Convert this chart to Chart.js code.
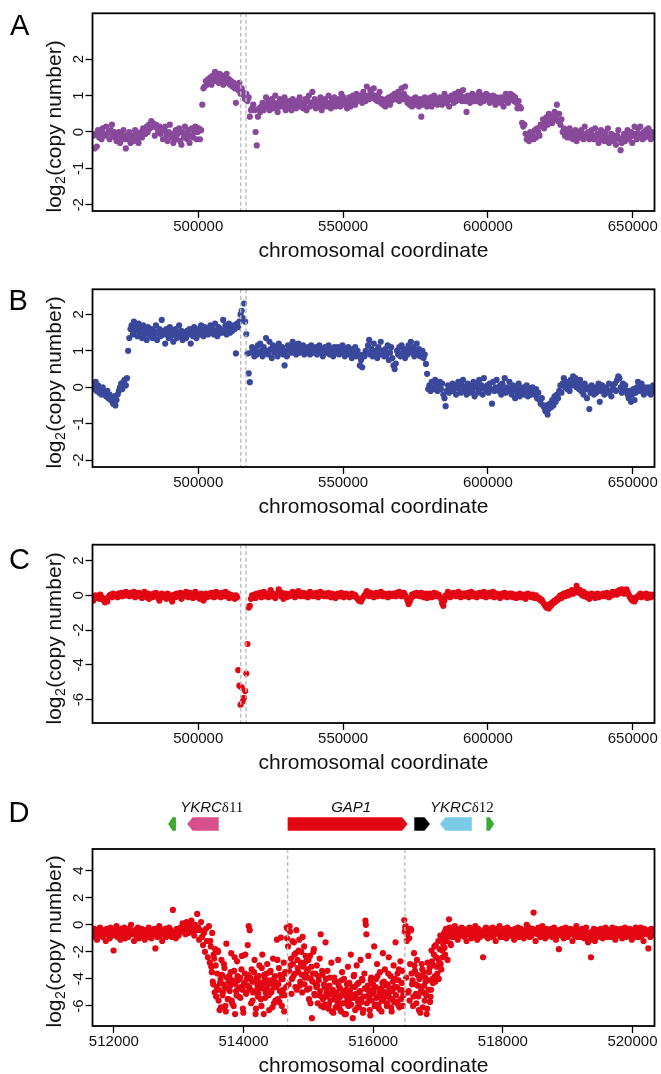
<!DOCTYPE html>
<html>
<head>
<meta charset="utf-8">
<script src="https://cdn.jsdelivr.net/npm/chart.js@4.4.1/dist/chart.umd.min.js"></script>
<style>
html, body { margin: 0; padding: 0; background: #fff; overflow: hidden; }
#fig { position: relative; width: 661px; height: 1074px; overflow: hidden; }
canvas { position: absolute; left: 0; }
.tag { position: absolute; font: 29px 'Liberation Sans', Arial, sans-serif; line-height: 29px; color: #000; }
</style>
</head>
<body>
<div id="fig">
  <canvas id="cA" width="661" height="265" style="top:0px"></canvas>
  <canvas id="cB" width="661" height="251" style="top:270px"></canvas>
  <canvas id="cC" width="661" height="252" style="top:525px"></canvas>
  <canvas id="cD" width="661" height="300" style="top:780px"></canvas>
  <div class="tag" style="left:10px;top:10.5px">A</div>
  <div class="tag" style="left:8.5px;top:286px">B</div>
  <div class="tag" style="left:9px;top:545px">C</div>
  <div class="tag" style="left:8.5px;top:798px">D</div>
</div>
<script>
// bin positions (kb) shared by panels A, B, C
const binKb = [
  463.8,464.2,464.6,465,465.4,465.8,466.2,466.6,467,467.4,
  467.8,468.2,468.6,469,469.4,469.8,470.2,470.6,471,471.4,
  471.8,472.2,472.6,473,473.4,473.8,474.2,474.6,475,475.4,
  475.8,476.2,476.6,477,477.4,477.8,478.2,478.6,479,479.4,
  479.8,480.2,480.6,481,481.4,481.8,482.2,482.6,483,483.4,
  483.8,484.2,484.6,485,485.4,485.8,486.2,486.6,487,487.4,
  487.8,488.2,488.6,489,489.4,489.8,490.2,490.6,491,491.4,
  491.8,492.2,492.6,493,493.4,493.8,494.2,494.6,495,495.4,
  495.8,496.2,496.6,497,497.4,497.8,498.2,498.6,499,499.4,
  499.8,500.2,500.6,501,501.4,501.8,502.2,502.6,503,503.4,
  503.8,504.2,504.6,505,505.4,505.8,506.2,506.6,507,507.4,
  507.8,508.2,508.6,509,509.4,509.8,510.2,510.6,511,511.4,
  511.8,512.2,512.6,513,513.4,513.8,514.2,514.6,515,515.4,
  515.8,516.2,516.6,517,517.4,517.8,518.2,518.6,519,519.4,
  519.8,520.2,520.6,521,521.4,521.8,522.2,522.6,523,523.4,
  523.8,524.2,524.6,525,525.4,525.8,526.2,526.6,527,527.4,
  527.8,528.2,528.6,529,529.4,529.8,530.2,530.6,531,531.4,
  531.8,532.2,532.6,533,533.4,533.8,534.2,534.6,535,535.4,
  535.8,536.2,536.6,537,537.4,537.8,538.2,538.6,539,539.4,
  539.8,540.2,540.6,541,541.4,541.8,542.2,542.6,543,543.4,
  543.8,544.2,544.6,545,545.4,545.8,546.2,546.6,547,547.4,
  547.8,548.2,548.6,549,549.4,549.8,550.2,550.6,551,551.4,
  551.8,552.2,552.6,553,553.4,553.8,554.2,554.6,555,555.4,
  555.8,556.2,556.6,557,557.4,557.8,558.2,558.6,559,559.4,
  559.8,560.2,560.6,561,561.4,561.8,562.2,562.6,563,563.4,
  563.8,564.2,564.6,565,565.4,565.8,566.2,566.6,567,567.4,
  567.8,568.2,568.6,569,569.4,569.8,570.2,570.6,571,571.4,
  571.8,572.2,572.6,573,573.4,573.8,574.2,574.6,575,575.4,
  575.8,576.2,576.6,577,577.4,577.8,578.2,578.6,579,579.4,
  579.8,580.2,580.6,581,581.4,581.8,582.2,582.6,583,583.4,
  583.8,584.2,584.6,585,585.4,585.8,586.2,586.6,587,587.4,
  587.8,588.2,588.6,589,589.4,589.8,590.2,590.6,591,591.4,
  591.8,592.2,592.6,593,593.4,593.8,594.2,594.6,595,595.4,
  595.8,596.2,596.6,597,597.4,597.8,598.2,598.6,599,599.4,
  599.8,600.2,600.6,601,601.4,601.8,602.2,602.6,603,603.4,
  603.8,604.2,604.6,605,605.4,605.8,606.2,606.6,607,607.4,
  607.8,608.2,608.6,609,609.4,609.8,610.2,610.6,611,611.4,
  611.8,612.2,612.6,613,613.4,613.8,614.2,614.6,615,615.4,
  615.8,616.2,616.6,617,617.4,617.8,618.2,618.6,619,619.4,
  619.8,620.2,620.6,621,621.4,621.8,622.2,622.6,623,623.4,
  623.8,624.2,624.6,625,625.4,625.8,626.2,626.6,627,627.4,
  627.8,628.2,628.6,629,629.4,629.8,630.2,630.6,631,631.4,
  631.8,632.2,632.6,633,633.4,633.8,634.2,634.6,635,635.4,
  635.8,636.2,636.6,637,637.4,637.8,638.2,638.6,639,639.4,
  639.8,640.2,640.6,641,641.4,641.8,642.2,642.6,643,643.4,
  643.8,644.2,644.6,645,645.4,645.8,646.2,646.6,647,647.4,
  647.8,648.2,648.6,649,649.4,649.8,650.2,650.6,651,651.4,
  651.8,652.2,652.6,653,653.4,653.8,654.2,654.6,655,655.4,
  655.8,656.2,656.6,657,657.4
];

// panel A: log2 copy number
const logA = [
  -0.1,-0.45,-0.05,-0.4,0.05,-0.15,0,-0.2,0.1,-0.05,
  -0.1,0.15,-0.05,0,-0.2,0.05,0.2,-0.1,0,-0.15,
  -0.25,-0.05,0,-0.3,-0.15,-0.1,0.05,-0.2,-0.45,-0.1,
  -0.2,0,-0.3,-0.1,-0.15,-0.25,0.05,-0.05,-0.2,-0.3,
  -0.1,0,-0.15,0.1,0.05,-0.05,0.15,0,0.2,0.1,
  0.3,0.25,0.15,-0.1,0.2,0.1,0,0.15,-0.05,0.1,
  -0.2,0.05,0.15,-0.1,-0.25,0,0.2,-0.05,-0.15,-0.3,
  -0.1,0.05,-0.2,-0.05,0.1,-0.25,-0.35,0,-0.15,0.15,
  -0.05,-0.2,0.05,-0.3,-0.1,0.1,-0.15,0,0.15,-0.2,
  0,0.1,-0.2,0.05,0.75,1.2,1.25,1.4,1.3,1.45,
  1.35,1.5,1.3,1.55,1.45,1.65,1.4,1.5,1.35,1.6,
  1.45,1.55,1.3,1.5,1.4,1.6,1.35,1.45,1.3,1.4,
  1.25,1.35,1.2,0.8,1.3,1.15,1.35,1.05,1.2,1.1,
  1.0,0.9,1.05,0.85,0.95,0.42,0.6,0.65,0.75,0.6,
  0,-0.37,0.42,0.65,0.55,0.7,0.8,0.6,0.75,0.95,
  0.7,0.85,0.6,0.75,0.9,0.65,0.8,1.0,0.7,0.55,
  0.8,0.9,0.7,0.85,0.75,0.95,0.6,0.8,0.7,0.85,
  0.75,0.6,0.9,0.8,0.7,0.65,0.85,0.75,0.95,0.7,
  0.8,0.65,0.75,0.9,0.6,0.85,1.0,0.7,0.8,1.1,
  0.75,0.9,0.65,0.8,0.7,0.85,0.95,0.6,0.75,0.8,
  0.9,0.7,0.8,1.0,0.75,0.65,0.9,0.8,0.95,0.7,
  0.85,0.75,0.9,0.7,1.05,0.8,0.95,0.75,0.85,0.65,
  0.8,0.95,0.7,0.85,1.0,0.9,0.75,1.05,0.85,0.95,
  1.0,0.9,0.8,1.1,0.95,0.85,1.25,1.0,0.9,1.15,
  1.05,0.95,1.2,0.9,1.0,0.85,0.95,1.1,0.8,0.9,
  0.75,0.85,0.7,0.9,0.8,0.95,0.75,0.85,1.0,0.9,
  1.05,0.9,0.95,1.1,0.85,1.0,1.2,0.9,1.05,1.25,
  0.95,0.8,0.9,0.75,0.85,0.7,0.9,0.8,0.95,0.75,
  0.85,0.7,0.9,0.42,0.8,0.75,0.95,0.85,0.7,0.9,
  0.8,0.95,0.7,0.85,1.0,0.8,0.9,0.75,0.85,0.95,
  0.85,0.75,0.9,1.05,0.8,0.95,0.85,0.7,0.9,1.0,
  0.9,0.8,1.05,0.85,0.95,1.1,0.9,1.0,0.85,1.15,
  0.95,0.85,0.55,1.0,0.9,0.8,0.95,1.05,0.85,0.9,
  1.0,0.85,0.95,1.1,0.8,0.9,1.0,0.85,0.95,1.05,
  0.9,1.0,0.8,0.95,0.85,1.0,0.9,0.75,0.95,0.85,
  0.9,0.8,0.95,0.85,0.7,0.9,1.05,0.85,0.8,0.95,
  1.05,0.9,1.0,0.85,0.95,0.8,0.65,0.85,0.7,0.65,
  0.25,0.15,0.2,-0.05,-0.2,-0.1,-0.25,0,-0.15,-0.05,
  -0.2,0.05,-0.15,0.1,0,-0.1,0.2,0.15,0.35,0.1,
  0.25,0.4,0.2,0.5,0.3,0.45,0.25,0.35,0.55,0.4,
  0.75,0.3,0.5,0.2,0.35,0,0.1,-0.1,0.05,-0.15,
  -0.05,0.1,-0.15,0,-0.2,-0.1,0.05,-0.25,-0.1,0,
  -0.15,0.05,-0.1,-0.2,0.15,-0.05,-0.15,0,-0.2,-0.1,
  0.05,-0.1,-0.2,0.1,-0.15,-0.05,-0.3,-0.1,0.05,-0.2,
  -0.1,-0.25,0,-0.15,0.1,-0.3,-0.2,-0.05,-0.25,-0.1,
  -0.2,-0.35,-0.1,0.05,-0.2,-0.5,-0.3,-0.15,-0.05,-0.25,
  -0.1,0.05,-0.2,-0.15,0,-0.3,-0.1,0.15,-0.05,-0.2,
  0.1,-0.05,0.15,-0.1,-0.2,0,-0.15,0.05,-0.1,0.1,
  -0.05,-0.2,0,-0.1,-0.15
];

// panel B
const logB = [
  0.1,-0.05,0.15,-0.1,0.05,-0.15,-0.05,-0.2,0,-0.1,
  -0.15,-0.25,-0.1,-0.3,-0.2,-0.35,-0.3,-0.45,-0.25,-0.5,
  -0.35,-0.2,-0.1,0,0.1,-0.05,0.15,0.2,0.05,0.25,
  1.0,1.35,1.6,1.7,1.45,1.8,1.55,1.65,1.4,1.75,
  1.5,1.6,1.35,1.7,1.45,1.55,1.3,1.65,1.5,1.4,
  1.6,1.35,1.55,1.45,1.7,1.3,1.5,1.6,1.4,1.85,
  1.55,1.45,1.2,1.6,1.5,1.35,1.65,1.4,1.55,1.25,
  1.45,1.6,1.35,1.5,1.7,1.4,1.55,1.3,1.5,1.45,
  1.35,1.55,1.45,1.6,1.2,1.5,1.4,1.65,1.55,1.35,
  1.5,1.6,1.45,1.7,1.55,1.4,1.65,1.5,1.6,1.45,
  1.55,1.7,1.5,1.6,1.45,1.75,1.55,1.4,1.65,1.5,
  1.6,1.5,1.85,1.55,1.7,1.45,1.6,1.75,1.5,1.65,
  1.55,1.7,1.6,0.93,1.75,1.65,1.8,2.0,2.1,1.9,
  2.3,1.8,1.46,0.93,0.38,0.14,0.95,1.1,1.0,0.85,
  1.05,0.9,1.15,0.95,1.2,1.0,0.85,1.1,0.95,1.35,
  1.0,0.9,1.25,1.05,0.8,1.15,0.95,1.1,1.0,0.85,
  1.2,1.05,0.95,1.1,0.9,0.6,1.0,0.85,1.15,1.0,
  1.1,0.95,1.25,1.0,1.15,0.9,1.05,1.2,0.95,1.1,
  1.0,1.15,0.9,1.05,0.95,1.1,1.0,0.9,1.15,1.05,
  0.95,1.05,1.1,0.9,1.0,1.15,0.95,1.05,0.85,1.0,
  1.1,0.95,1.0,1.15,0.9,1.05,1.0,0.85,1.1,0.95,
  1.0,1.1,0.9,1.05,0.95,1.15,1.0,0.85,1.05,0.95,
  1.1,0.9,1.0,0.8,1.05,0.95,1.1,0.85,1.0,0.9,
  0.6,0.75,0.55,0.9,0.85,1.0,0.95,1.15,1.3,0.9,
  1.05,0.85,1.2,0.95,1.0,0.8,1.1,0.9,1.25,1.0,
  0.95,0.85,1.05,0.9,1.15,0.75,0.95,1.1,0.8,0.6,
  0.5,0.65,1.0,0.9,1.1,0.85,1.15,0.95,1.05,0.8,
  1.0,0.9,1.15,1.05,1.25,0.95,1.1,0.85,1.0,1.2,
  0.9,1.05,0.85,0.95,1.0,0.8,0.9,0.64,0.37,-0.05,
  0.05,-0.1,0.15,0,-0.05,0.2,0.1,-0.1,0.05,0.15,
  -0.05,0.1,-0.2,-0.3,-0.52,-0.1,0.05,-0.15,0,-0.05,
  0.1,-0.1,0.05,-0.2,0,0.15,-0.05,-0.15,0.05,0.2,
  -0.1,0,-0.2,0.1,-0.05,-0.15,0.05,-0.1,0.15,-0.25,
  0,0.1,-0.15,0.2,-0.05,0.05,-0.2,0.25,0,-0.1,
  0.05,-0.15,0.1,-0.05,-0.45,0.15,-0.1,0,0.2,-0.05,
  -0.1,0.05,-0.2,0.1,-0.05,0.25,-0.15,0,-0.1,0.15,
  -0.05,-0.2,0.05,-0.1,-0.3,0,-0.15,0.1,-0.25,-0.05,
  -0.15,0,-0.2,-0.1,0.05,-0.25,-0.15,-0.05,-0.2,0,
  -0.1,-0.2,-0.05,-0.3,-0.15,-0.35,-0.45,-0.3,-0.5,-0.55,
  -0.65,-0.5,-0.75,-0.6,-0.45,-0.55,-0.35,-0.5,-0.25,-0.4,
  -0.2,-0.3,-0.1,0.05,-0.15,0.1,0.25,0,0.15,-0.05,
  0.1,-0.1,0.2,0.05,0.3,0.15,0.25,0,0.1,-0.05,
  0.2,-0.1,0.05,-0.2,0.1,-0.05,-0.3,0,-0.6,-0.15,
  0.05,-0.1,-0.2,0,-0.15,-0.05,0.1,-0.4,-0.1,0.05,
  -0.1,-0.2,0,-0.05,-0.15,0.1,-0.1,-0.25,0.05,-0.05,
  0.1,-0.1,0.2,0.3,0.25,0,-0.15,0.1,-0.05,0.05,
  -0.1,-0.2,-0.3,-0.1,-0.4,-0.2,-0.05,-0.35,-0.15,0,
  0.15,-0.1,0.05,0.1,-0.05,-0.2,0,-0.1,-0.15,0,
  -0.1,-0.2,-0.05,0.05,-0.1
];

// panel C
const logC = [
  -0.3,-0.05,0,-0.15,-0.1,-0.2,0.05,-0.1,-0.15,-0.3,
  -0.4,-0.2,-0.35,-0.1,0,0.05,-0.1,0.1,0,-0.05,
  0.05,-0.1,0.1,0,0.15,-0.05,0.1,0,0.2,0.05,
  0.1,-0.05,0.15,0,0.05,0.2,-0.1,0.1,0,0.15,
  -0.05,0.1,-0.15,0.05,0.2,0,-0.1,0.1,-0.2,0,
  0.05,-0.1,0.1,-0.05,0.15,0,-0.15,-0.3,-0.05,0.1,
  0,-0.1,0.05,-0.2,0.1,-0.05,-0.15,0,-0.35,-0.1,
  0.05,-0.1,0.1,0,-0.05,0.15,-0.2,0,0.1,-0.05,
  0.2,0.05,-0.1,0.15,0,0.1,-0.15,0.05,0.2,0,
  -0.1,0.05,-0.2,0.1,-0.05,-0.3,0,0.1,-0.1,0.05,
  0.1,-0.05,0.15,0,-0.1,0.05,0.2,-0.05,0.1,0,
  -0.1,0.15,0.05,-0.05,0.2,0,0.1,-0.15,0.05,-0.1,
  0,-0.1,-0.2,0,-0.1,-4.3,-5.2,-6.3,-5.3,-6.1,
  -5.9,-5.5,-4.5,-2.8,-0.7,-0.6,-0.2,0,-0.1,0.05,
  -0.15,0.1,-0.05,0,0.15,-0.1,0.05,0.2,-0.05,0.1,
  0,-0.1,0.05,0.3,-0.05,0.1,0,-0.15,0.05,0.1,
  0.35,0.1,-0.05,0.15,-0.2,0,0.1,-0.1,0.05,-0.05,
  0.1,0,0.2,0.05,-0.1,0.15,0,0.25,0.1,-0.05,
  0.05,0.15,-0.05,0.1,0,-0.1,0.05,0.2,0,0.1,
  -0.05,0.1,0,0.15,-0.1,0.05,0.2,0,0.1,-0.05,
  0.1,0,-0.05,0.15,0.05,-0.1,0.1,0,0.05,-0.15,
  0,0.1,-0.05,0.05,0.15,0,-0.1,0.05,0.1,-0.05,
  0.05,-0.1,0,0.1,-0.05,0.05,0,-0.1,-0.2,-0.3,
  -0.25,-0.35,-0.2,-0.1,0,0.1,0.25,0.1,-0.05,0.15,
  0,0.1,-0.1,0.05,0.15,-0.05,0.1,0,0.2,0.05,
  -0.05,0.1,0,0.05,-0.1,0.1,0,-0.05,0.1,0,
  0.1,-0.05,0.15,0,0.2,0.1,-0.05,0.05,0.15,0,
  -0.1,-0.3,-0.5,-0.35,-0.2,0.05,-0.05,0.1,0,0.15,
  0,0.1,-0.05,0.15,0.05,-0.1,0,0.1,-0.15,0.05,
  0.1,0,-0.1,0.05,0.15,-0.05,0.1,0,0.05,-0.1,
  -0.2,-0.45,-0.6,-0.3,0,-0.05,0.2,0.05,-0.1,0,
  0.1,0.15,0,-0.05,0.1,0.2,0.05,-0.1,0,0.1,
  -0.05,0.1,0,0.15,-0.1,0.05,0.2,0,-0.05,0.1,
  0,-0.1,0.05,0.15,0,0.1,-0.05,0.2,0.05,-0.1,
  0.1,0,0.15,-0.05,0.05,0.2,-0.1,0,0.1,-0.05,
  0.05,-0.15,0,0.1,-0.05,0.15,0,-0.1,0.05,0.1,
  -0.05,0.1,-0.1,0,0.05,-0.15,0,-0.05,0.1,-0.1,
  0,-0.1,0.05,-0.2,0,0.1,-0.05,0,-0.1,0.05,
  -0.05,-0.15,0,-0.1,-0.2,-0.15,-0.3,-0.25,-0.4,-0.5,
  -0.6,-0.7,-0.55,-0.75,-0.5,-0.6,-0.4,-0.45,-0.3,-0.35,
  -0.2,-0.25,-0.1,0,-0.15,0.05,0.1,-0.05,0.15,0,
  0.2,0.05,0.15,0.3,0.1,0.25,0.2,0.55,0.35,0.15,
  0.3,0.1,0,0.2,-0.05,0.1,-0.1,0.05,-0.2,0,
  0.1,-0.05,0.05,-0.15,0,0.1,-0.1,0.05,0,-0.05,
  0.1,0,-0.05,0.15,0.05,-0.1,0.1,0,0.2,0.05,
  0.1,0.2,0.05,0.25,0.3,0.15,0.35,0.2,0.1,0.25,
  0.35,0.2,0.05,-0.1,-0.2,-0.3,-0.15,-0.35,-0.2,-0.1,
  -0.05,0,0.1,-0.1,0.05,0,-0.05,0.1,-0.15,0,
  0.05,-0.1,0,0.05,-0.05
];

// panel D: probe positions (bp) and log2 copy number
const posD = [
  511680,511695,511710,511725,511740,511755,511770,511785,511800,511815,
  511830,511845,511860,511875,511890,511905,511920,511935,511950,511965,
  511980,511995,512010,512025,512040,512055,512070,512085,512100,512115,
  512130,512145,512160,512175,512190,512205,512220,512235,512250,512265,
  512280,512295,512310,512325,512340,512355,512370,512385,512400,512415,
  512430,512445,512460,512475,512490,512505,512520,512535,512550,512565,
  512580,512595,512610,512625,512640,512655,512670,512685,512700,512715,
  512730,512745,512760,512775,512790,512805,512820,512835,512850,512865,
  512880,512895,512910,512925,512940,512955,512970,512985,513000,513015,
  513030,513045,513060,513075,513090,513105,513120,513135,513150,513165,
  513180,513195,513210,513225,513240,513255,513270,513285,513300,513315,
  513330,513345,513360,513375,513390,513405,513420,513435,513450,513465,
  513480,513495,513510,513525,513540,513555,513570,513585,513600,513615,
  513630,513645,513660,513675,513690,513705,513720,513735,513750,513765,
  513780,513795,513810,513825,513840,513855,513870,513885,513900,513915,
  513930,513945,513960,513975,513990,514005,514020,514035,514050,514065,
  514080,514095,514110,514125,514140,514155,514170,514185,514200,514215,
  514230,514245,514260,514275,514290,514305,514320,514335,514350,514365,
  514380,514395,514410,514425,514440,514455,514470,514485,514500,514515,
  514530,514545,514560,514575,514590,514605,514620,514635,514650,514665,
  514680,514695,514710,514725,514740,514755,514770,514785,514800,514815,
  514830,514845,514860,514875,514890,514905,514920,514935,514950,514965,
  514980,514995,515010,515025,515040,515055,515070,515085,515100,515115,
  515130,515145,515160,515175,515190,515205,515220,515235,515250,515265,
  515280,515295,515310,515325,515340,515355,515370,515385,515400,515415,
  515430,515445,515460,515475,515490,515505,515520,515535,515550,515565,
  515580,515595,515610,515625,515640,515655,515670,515685,515700,515715,
  515730,515745,515760,515775,515790,515805,515820,515835,515850,515865,
  515880,515895,515910,515925,515940,515955,515970,515985,516000,516015,
  516030,516045,516060,516075,516090,516105,516120,516135,516150,516165,
  516180,516195,516210,516225,516240,516255,516270,516285,516300,516315,
  516330,516345,516360,516375,516390,516405,516420,516435,516450,516465,
  516480,516495,516510,516525,516540,516555,516570,516585,516600,516615,
  516630,516645,516660,516675,516690,516705,516720,516735,516750,516765,
  516780,516795,516810,516825,516840,516855,516870,516885,516900,516915,
  516930,516945,516960,516975,516990,517005,517020,517035,517050,517065,
  517080,517095,517110,517125,517140,517155,517170,517185,517200,517215,
  517230,517245,517260,517275,517290,517305,517320,517335,517350,517365,
  517380,517395,517410,517425,517440,517455,517470,517485,517500,517515,
  517530,517545,517560,517575,517590,517605,517620,517635,517650,517665,
  517680,517695,517710,517725,517740,517755,517770,517785,517800,517815,
  517830,517845,517860,517875,517890,517905,517920,517935,517950,517965,
  517980,517995,518010,518025,518040,518055,518070,518085,518100,518115,
  518130,518145,518160,518175,518190,518205,518220,518235,518250,518265,
  518280,518295,518310,518325,518340,518355,518370,518385,518400,518415,
  518430,518445,518460,518475,518490,518505,518520,518535,518550,518565,
  518580,518595,518610,518625,518640,518655,518670,518685,518700,518715,
  518730,518745,518760,518775,518790,518805,518820,518835,518850,518865,
  518880,518895,518910,518925,518940,518955,518970,518985,519000,519015,
  519030,519045,519060,519075,519090,519105,519120,519135,519150,519165,
  519180,519195,519210,519225,519240,519255,519270,519285,519300,519315,
  519330,519345,519360,519375,519390,519405,519420,519435,519450,519465,
  519480,519495,519510,519525,519540,519555,519570,519585,519600,519615,
  519630,519645,519660,519675,519690,519705,519720,519735,519750,519765,
  519780,519795,519810,519825,519840,519855,519870,519885,519900,519915,
  519930,519945,519960,519975,519990,520005,520020,520035,520050,520065,
  520080,520095,520110,520125,520140,520155,520170,520185,520200,520215,
  520230,520245,520260,520275,520290,520305
];
const logD = [
  -0.6,-0.3,-0.9,-0.5,-1.1,-0.4,-0.7,-0.2,-0.8,-0.5,
  -0.9,-0.4,-0.6,-1.2,-0.3,-0.7,-0.5,-1.0,-0.2,-0.6,
  -0.8,-1.9,-0.4,-0.7,-0.1,-0.9,-0.5,-0.6,-1.1,-0.3,
  -0.5,-0.8,-0.2,-1.0,-0.6,-0.4,-0.9,-0.3,-0.7,0,
  -0.7,-0.5,-1.2,-0.4,-0.8,-0.6,-0.2,-1.0,-0.5,-0.9,
  -0.3,-0.7,-0.6,-1.1,-0.4,-0.8,-0.5,-0.2,-0.9,-0.6,
  -1.0,-0.4,-0.7,-0.3,-1.75,-0.6,-0.9,-0.5,-0.1,-0.8,
  -0.6,-1.2,-0.4,-0.7,-0.3,-0.9,-0.5,-0.8,-0.2,-0.6,
  -0.4,-0.9,1.1,-0.7,-0.5,-1.0,-0.3,-0.6,-0.8,-0.4,
  -0.2,-0.5,0.1,-0.4,-0.1,-0.7,0.2,-0.3,-0.6,0,
  -0.3,0.3,-0.5,-0.1,-0.8,0,-0.4,0.8,-0.2,-1.1,
  -0.4,0.2,-0.9,-1.5,-0.6,-2.0,-0.3,-1.2,-2.4,-0.1,
  -2.8,-1.6,-3.5,-4.2,-2.2,-5.0,-3.0,-4.6,-1.9,-5.6,
  -6.3,-4.0,-2.6,-5.2,-4.4,-3.2,-6.0,-1.4,-4.7,-5.5,
  -3.8,-4.5,-2.1,-5.8,-4.2,-3.4,-6.6,-4.9,-2.7,-4.1,
  -5.3,-3.9,-4.6,-2.3,-6.2,-4.4,-3.6,-5.0,-4.0,-1.5,
  -0.1,-0.4,-4.8,-3.3,-5.6,-4.2,-2.6,-6.6,-3.9,-4.5,
  -5.1,-3.0,-4.3,-6.0,-2.2,-4.7,-3.7,-5.4,-4.1,-2.9,
  -4.4,-6.3,-3.5,-5.0,-4.2,-2.5,-5.8,-3.8,-4.6,-1.1,
  -5.5,-3.2,-4.9,-0.95,-6.0,-4.0,-2.8,-5.2,-3.6,-0.2,
  -0.3,-4.4,-0.1,-3.0,-5.1,-1.2,-3.8,-2.2,-4.6,-0.4,
  -2.6,-3.5,-1.1,-4.2,-2.0,-5.0,-3.1,-1.6,-3.9,-2.7,
  -4.8,-3.3,-5.5,-2.3,-4.0,-6.9,-3.6,-1.8,-5.2,-4.4,
  -3.0,-5.8,-4.1,-2.5,-0.7,-5.3,-3.7,-6.1,-4.6,-1.3,
  -5.0,-3.4,-6.2,-4.5,-5.6,-2.8,-4.9,-6.5,-3.9,-5.3,
  -4.2,-6.0,-2.6,-5.4,-4.7,-6.4,-3.5,-5.1,-4.0,-5.8,
  -6.6,-4.4,-3.1,-5.6,-4.9,-2.2,-5.2,-6.9,-3.8,-4.6,
  -5.4,-3.0,-6.1,-4.3,-5.0,-2.6,-5.7,-4.1,-6.3,-3.6,
  0.3,-0.7,-4.8,-2.3,-5.5,-6.7,-3.9,-5.1,-4.4,-1.6,
  -5.9,-4.0,-2.9,-5.3,-6.2,-3.5,-4.7,-5.6,-2.1,-4.2,
  -3.3,-5.0,-6.0,-4.4,-2.4,-5.4,-3.8,-6.4,-4.9,-3.0,
  -4.6,-1.3,-5.7,-3.6,-4.1,-6.1,-2.7,-4.8,-3.4,-5.2,
  0.35,-0.2,-3.9,-0.7,-5.0,-1.0,-2.9,-0.4,-4.4,-6.0,
  -2.1,-3.4,-5.1,-2.6,-4.5,-6.3,-3.8,-4.9,-2.9,-6.1,
  -3.5,-5.6,-4.2,-6.6,-2.8,-4.8,-3.2,-5.3,-1.9,-4.0,
  -3.0,-1.6,-4.2,-2.4,-3.6,-1.2,-2.8,-0.8,-3.3,-1.9,
  -1.4,-0.6,-2.2,-0.3,-1.0,-0.5,0.4,-0.8,-1.5,-0.2,
  -0.5,-0.9,-0.1,-0.7,-0.3,-1.1,-0.6,-0.4,-0.8,-0.2,
  -0.6,-0.3,-0.9,-0.5,-1.2,-0.4,-0.7,-0.2,-0.6,-1.0,
  -0.4,-0.8,-0.5,-0.1,-0.7,-1.1,-0.3,-0.6,-0.9,-0.5,
  -0.7,-2.4,-0.4,-0.8,-0.2,-0.6,-1.0,-0.5,-0.3,-0.9,
  -0.5,-0.2,-0.8,-0.4,-1.2,-0.6,-0.3,-0.7,-0.1,-0.9,
  -0.6,-0.9,-0.3,-0.7,-0.5,-1.0,-0.2,-0.6,-0.8,-0.4,
  -0.8,-0.4,-0.6,-1.1,-0.3,-0.7,-0.5,-0.2,-0.9,-0.6,
  -0.3,-0.7,-0.5,-1.0,-0.4,-0.8,0,-0.6,-0.2,-0.9,
  -0.5,-0.8,-0.3,0.9,-0.6,-1.2,-0.4,-0.7,-0.2,-0.5,
  -0.9,-0.4,-0.1,-0.7,-0.5,-1.0,-0.3,-0.6,-0.8,-0.4,
  -0.6,-0.3,-0.9,-0.5,-0.2,-0.8,-1.1,-0.4,-0.7,-1.8,
  -0.5,-0.8,-0.3,-0.6,-1.0,-0.4,-0.2,-0.7,-0.9,-0.5,
  -0.7,-0.3,-0.6,-1.2,-0.4,-0.8,-0.5,-0.1,-0.9,-0.6,
  -0.4,-0.9,-0.6,-0.3,-0.7,-1.0,-0.5,-0.2,-0.8,-1.3,
  -0.6,-1.1,-2.4,-0.5,-0.8,-0.3,-1.2,-0.7,-0.4,-0.9,
  -0.5,-0.8,-0.3,-0.6,-1.0,-0.4,-0.7,-0.2,-0.9,-0.5,
  -0.7,-0.4,-0.9,-0.6,-0.2,-0.8,-0.5,-1.1,-0.3,-0.6,
  -0.4,-0.8,-0.6,-0.3,-1.0,-0.5,-0.7,-0.2,-0.9,-0.6,
  -0.8,-0.5,-0.3,-0.7,-1.1,-0.4,-0.6,-0.9,-0.2,-0.7,
  -0.5,-0.9,-0.4,-0.2,-0.8,-0.6,-1.2,-0.3,-0.7,-0.5,
  -0.6,-1.75,-0.4,-0.9,-0.3,-0.7
];

// panel D: second probe set across the deleted stretch
const posD2 = [
  513487,513502,513517,513532,513547,513562,513577,513592,513607,513622,
  513637,513652,513667,513682,513697,513712,513727,513742,513757,513772,
  513787,513802,513817,513832,513847,513862,513877,513892,513907,513922,
  513937,513952,513967,513982,513997,514012,514027,514042,514057,514072,
  514087,514102,514117,514132,514147,514162,514177,514192,514207,514222,
  514237,514252,514267,514282,514297,514312,514327,514342,514357,514372,
  514387,514402,514417,514432,514447,514462,514477,514492,514507,514522,
  514537,514552,514567,514582,514597,514612,514627,514642,514657,514672,
  514687,514702,514717,514732,514747,514762,514777,514792,514807,514822,
  514837,514852,514867,514882,514897,514912,514927,514942,514957,514972,
  514987,515002,515017,515032,515047,515062,515077,515092,515107,515122,
  515137,515152,515167,515182,515197,515212,515227,515242,515257,515272,
  515287,515302,515317,515332,515347,515362,515377,515392,515407,515422,
  515437,515452,515467,515482,515497,515512,515527,515542,515557,515572,
  515587,515602,515617,515632,515647,515662,515677,515692,515707,515722,
  515737,515752,515767,515782,515797,515812,515827,515842,515857,515872,
  515887,515902,515917,515932,515947,515962,515977,515992,516007,516022,
  516037,516052,516067,516082,516097,516112,516127,516142,516157,516172,
  516187,516202,516217,516232,516247,516262,516277,516292,516307,516322,
  516337,516352,516367,516382,516397,516412,516427,516442,516457,516472,
  516487,516502,516517,516532,516547,516562,516577,516592,516607,516622,
  516637,516652,516667,516682,516697,516712,516727,516742,516757,516772,
  516787,516802,516817,516832,516847,516862,516877,516892,516907,516922,
  516937,516952,516967,516982,516997,517012,517027,517042,517057,517072,
  517087,517102,517117,517132,517147,517162,517177,517192,517207,517222
];
const logD2 = [
  -1.2,-3.1,-0.6,-4.4,-2.5,-1.8,-5.3,-3.6,-2.0,-4.8,
  -4.3,-6.1,-3.7,-5.0,-2.9,-4.6,-6.4,-3.9,-5.5,-4.2,
  -4.9,-3.5,-5.6,-4.1,-6.0,-2.4,-4.4,-5.2,-3.8,-4.7,
  -4.0,-5.4,-3.3,-4.8,-6.5,-4.3,-2.2,-5.1,-4.5,-3.7,
  -4.6,-3.9,-5.8,-4.2,-5.0,-3.5,-4.9,-6.2,-4.1,-5.3,
  -3.8,-4.7,-5.5,-3.2,-4.4,-6.6,-4.0,-5.0,-3.6,-4.8,
  -5.2,-4.1,-3.4,-4.9,-6.1,-4.5,-3.9,-5.6,-4.3,-2.6,
  -4.4,-5.7,-3.7,-4.0,-5.2,-4.8,-6.4,-3.5,-4.6,-1.0,
  -1.6,-3.4,-0.5,-2.5,-4.0,-2.9,-1.3,-3.6,-2.1,-4.8,
  -3.2,-1.9,-4.5,-2.8,-3.7,-0.9,-3.0,-4.4,-2.3,-3.5,
  -3.9,-2.6,-4.7,-5.8,-3.1,-4.2,-2.0,-5.1,-3.6,-4.6,
  -4.5,-3.8,-5.2,-4.9,-6.0,-3.4,-5.5,-4.4,-5.9,-4.0,
  -5.3,-4.6,-5.9,-3.9,-5.1,-6.4,-4.8,-5.5,-4.2,-6.1,
  -5.0,-5.7,-4.5,-6.2,-5.3,-4.1,-5.8,-4.9,-6.6,-5.2,
  -4.8,-5.5,-6.0,-4.3,-5.2,-5.9,-4.6,-5.4,-3.7,-6.3,
  -5.1,-4.4,-5.7,-6.1,-4.9,-5.5,-4.0,-6.5,-5.3,-4.7,
  0,-5.8,-4.5,-5.2,-6.3,-4.1,-5.6,-4.8,-5.0,-6.0,
  -4.6,-5.4,-3.8,-5.9,-4.9,-5.2,-6.4,-4.3,-5.6,-5.0,
  -5.3,-4.5,-5.8,-3.6,-5.0,-4.7,-6.1,-5.5,-4.2,-5.7,
  -4.0,-5.2,-4.6,-5.9,-3.3,-4.8,-5.5,-4.3,-6.0,-5.1,
  -0.5,-0.1,-1.2,-0.6,-4.9,-5.6,-0.3,-3.6,-4.1,-5.3,
  -3.0,-4.4,-5.8,-3.7,-5.3,-4.0,-6.5,-4.6,-3.3,-5.0,
  -4.5,-3.9,-5.2,-6.2,-4.1,-3.5,-5.7,-4.8,-2.7,-4.3,
  -2.2,-3.8,-1.5,-3.1,-2.5,-4.0,-1.8,-2.9,-1.1,-2.4,
  -0.9,-1.7,-0.4,-1.2,-2.6,-0.7,-0.2,-1.4,-0.5,-0.9
];

// GAP1 region boundaries (dashed lines)
const gapBounds = [514680, 516490];

// genes above panel D
const geneStart  = [512838, 513131, 514680, 516635, 517029, 517746];
const geneEnd    = [512957, 513618, 516531, 516876, 517522, 517865];
const geneStrand = [-1, -1, 1, 1, -1, 1];
const geneItalic = ['', 'YKRC', 'GAP1', '', 'YKRC', ''];
const genePlain  = ['', 'δ11', '', '', 'δ12', ''];
const geneLabelAt = [0, 513510, 515660, 0, 517370, 0];
const geneColors = ['#3daa35', '#d6508a', '#e30613', '#000000', '#7cc9e8', '#3daa35'];

// ticks
const xTicksWide = [500000, 550000, 600000, 650000];
const xTicksZoom = [512000, 514000, 516000, 518000, 520000];
const yTicksAB = [-2, -1, 0, 1, 2];
const yTicksC = [-6, -4, -2, 0, 2];
const yTicksD = [-6, -4, -2, 0, 2, 4];

const SANS = "'Liberation Sans', Arial, Helvetica, sans-serif";
const SERIF = "'Liberation Serif', 'Times New Roman', serif";

// box, rotated y labels, dashed lines and gene track
const deco = {
  id: 'deco',
  afterDatasetsDraw(chart) {
    const { ctx, chartArea: a, scales: { x } } = chart;
    ctx.save();
    ctx.strokeStyle = '#bdbdbd';
    ctx.lineWidth = 1.4;
    ctx.setLineDash([4, 2.5]);
    gapBounds.forEach(v => {
      const px = x.getPixelForValue(v);
      ctx.beginPath();
      ctx.moveTo(px, a.top);
      ctx.lineTo(px, a.bottom);
      ctx.stroke();
    });
    ctx.restore();
  },
  afterDraw(chart, args, opts) {
    const { ctx, chartArea: a, scales: { x, y } } = chart;
    ctx.save();
    ctx.strokeStyle = '#000';
    ctx.lineWidth = 1.8;
    ctx.strokeRect(a.left, a.top, a.right - a.left, a.bottom - a.top);

    // y tick labels, rotated like R
    ctx.fillStyle = '#111';
    ctx.font = '15px ' + SANS;
    ctx.textAlign = 'center';
    ctx.textBaseline = 'alphabetic';
    y.ticks.forEach(t => {
      ctx.save();
      ctx.translate(a.left - 9.5, y.getPixelForValue(t.value));
      ctx.rotate(-Math.PI / 2);
      ctx.fillText(String(t.value), 0, 0);
      ctx.restore();
    });

    // y title with subscript
    ctx.save();
    ctx.translate(a.left - 32, a.bottom + 1.5);
    ctx.rotate(-Math.PI / 2);
    ctx.textAlign = 'left';
    ctx.font = '21px ' + SANS;
    ctx.fillText('log', 0, 0);
    let w = ctx.measureText('log').width;
    ctx.font = '14px ' + SANS;
    ctx.fillText('2', w + 0.5, 4.5);
    w += ctx.measureText('2').width + 1;
    ctx.font = '21px ' + SANS;
    ctx.fillText('(copy number)', w, 0);
    ctx.restore();

    if (opts.genes) {
      const top = a.top - 31.7, bot = a.top - 18.3, mid = (top + bot) / 2;
      geneStart.forEach((s, i) => {
        const x0 = x.getPixelForValue(s), x1 = x.getPixelForValue(geneEnd[i]);
        const tip = Math.min(5.5, (x1 - x0) * 0.55);
        ctx.fillStyle = geneColors[i];
        ctx.beginPath();
        if (geneStrand[i] > 0) {
          ctx.moveTo(x0, top); ctx.lineTo(x1 - tip, top); ctx.lineTo(x1, mid);
          ctx.lineTo(x1 - tip, bot); ctx.lineTo(x0, bot);
        } else {
          ctx.moveTo(x1, top); ctx.lineTo(x0 + tip, top); ctx.lineTo(x0, mid);
          ctx.lineTo(x0 + tip, bot); ctx.lineTo(x1, bot);
        }
        ctx.closePath();
        ctx.fill();

        if (geneItalic[i]) {
          const cx = x.getPixelForValue(geneLabelAt[i]);
          const base = a.top - 37.3;
          ctx.fillStyle = '#111';
          ctx.textAlign = 'left';
          ctx.font = 'italic 15px ' + SANS;
          const w1 = ctx.measureText(geneItalic[i]).width;
          ctx.font = '15px ' + SERIF;
          const w2 = genePlain[i] ? ctx.measureText(genePlain[i]).width : 0;
          const sx = cx - (w1 + w2) / 2;
          ctx.font = 'italic 15px ' + SANS;
          ctx.fillText(geneItalic[i], sx, base);
          if (genePlain[i]) {
            ctx.font = '15px ' + SERIF;
            ctx.fillText(genePlain[i], sx + w1, base);
          }
        }
      });
    }
    ctx.restore();
  }
};

function makePanel(id, points, color, xr, yr, xTicks, yTicks, padTop, genes) {
  return new Chart(document.getElementById(id), {
    type: 'scatter',
    data: {
      datasets: [{
        data: points,
        backgroundColor: color,
        borderWidth: 0,
        pointRadius: 3.1,
        pointHoverRadius: 3.1
      }]
    },
    options: {
      responsive: false,
      animation: false,
      devicePixelRatio: 1,
      events: [],
      layout: { padding: { top: padTop, right: 6.5, left: 0, bottom: 0 } },
      plugins: {
        legend: { display: false },
        tooltip: { enabled: false },
        deco: { genes: genes }
      },
      scales: {
        x: {
          type: 'linear',
          min: xr[0], max: xr[1],
          afterBuildTicks: s => { s.ticks = xTicks.map(v => ({ value: v })); },
          afterFit: s => { s.height = 54; },
          ticks: {
            font: { family: SANS, size: 15 }, color: '#111', padding: 0,
            maxRotation: 0, autoSkip: false, callback: v => String(v)
          },
          grid: { drawOnChartArea: false, drawTicks: true, tickLength: 7, tickColor: '#000', tickWidth: 1.3 },
          border: { display: false },
          title: {
            display: true, text: 'chromosomal coordinate',
            font: { family: SANS, size: 21 }, color: '#111',
            padding: { top: 0, bottom: 1.5 }
          }
        },
        y: {
          type: 'linear',
          min: yr[0], max: yr[1],
          afterBuildTicks: s => { s.ticks = yTicks.map(v => ({ value: v })); },
          afterFit: s => { s.width = 92.5; },
          ticks: { display: false },
          grid: { drawOnChartArea: false, drawTicks: true, tickLength: 7, tickColor: '#000', tickWidth: 1.3 },
          border: { display: false }
        }
      }
    },
    plugins: [deco]
  });
}

const ptsA = binKb.map((k, i) => ({ x: k * 1000, y: logA[i] }));
const ptsB = binKb.map((k, i) => ({ x: k * 1000, y: logB[i] }));
const ptsC = binKb.map((k, i) => ({ x: k * 1000, y: logC[i] }));
const ptsD = posD.map((p, i) => ({ x: p, y: logD[i] }))
  .concat(posD2.map((p, i) => ({ x: p, y: logD2[i] })));

const wideRange = [463500, 657500];
makePanel('cA', ptsA, '#89499b', wideRange, [-2.17, 3.26], xTicksWide, yTicksAB, 13.3, false);
makePanel('cB', ptsB, '#3a489c', wideRange, [-2.19, 2.69], xTicksWide, yTicksAB, 19.3, false);
makePanel('cC', ptsC, '#e30613', wideRange, [-7.35, 2.92], xTicksWide, yTicksC, 19.7, false);
makePanel('cD', ptsD, '#e30613', [511670, 520340], [-7.48, 5.6], xTicksZoom, yTicksD, 69, true);
</script>
</body>
</html>
